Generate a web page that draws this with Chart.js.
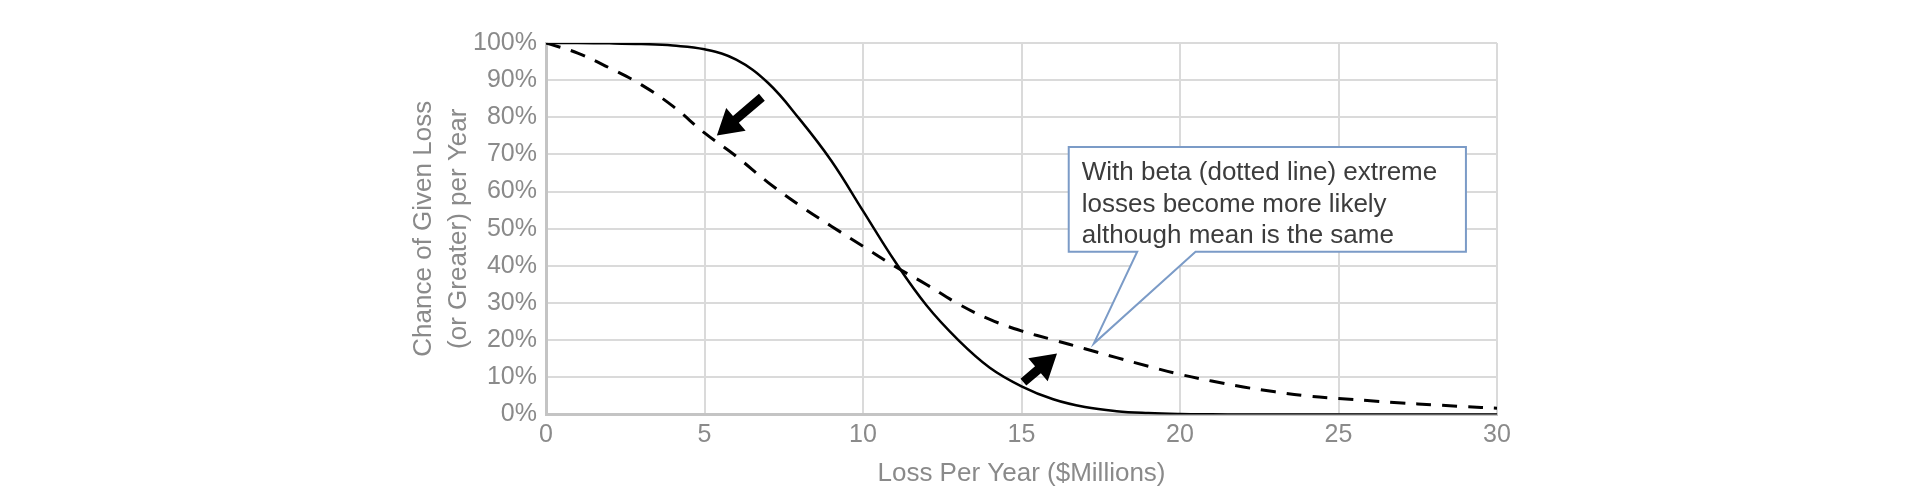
<!DOCTYPE html>
<html>
<head>
<meta charset="utf-8">
<script src="https://cdn.jsdelivr.net/npm/chart.js@4.4.0/dist/chart.umd.min.js"></script>
<style>
  html, body { margin: 0; padding: 0; background: #fff; }
  #wrap { width: 1920px; height: 500px; }
</style>
</head>
<body>
<div id="wrap"><canvas id="lossChart" width="1920" height="500"></canvas></div>
<script>
// loss per year ($M)
const lossX = [ 0, 1, 2, 3, 4, 5, 6, 7, 8, 9, 10, 11, 12, 13, 14, 15, 16, 17, 18, 19, 20, 21, 22, 23, 24, 25, 26, 27, 28, 29, 30 ];
// chance of given loss or greater (%), solid curve
const normalPct = [ 100, 100, 99.9, 99.7, 99.3, 98.3, 95.5, 89.3, 79.5, 68.3, 54.8, 41.3, 29.4, 20.1, 12.6, 7.6, 4.1, 2.0, 0.9, 0.4, 0.15, 0.05, 0, 0, 0, 0, 0, 0, 0, 0, 0 ];
// dashed curve (beta)
const betaPct = [ 100, 97.3, 93.3, 88.8, 83, 75.8, 69.5, 62.5, 56.3, 50.7, 45.3, 39.9, 35, 29.8, 25.6, 22.5, 20.1, 17.7, 15.3, 13, 10.8, 9, 7.4, 6.1, 5, 4.3, 3.7, 3.1, 2.6, 2.1, 1.7 ];
const yTicks = [ 0, 10, 20, 30, 40, 50, 60, 70, 80, 90, 100 ];
const xTicks = [ 0, 5, 10, 15, 20, 25, 30 ];

const calloutLines = [ 'With beta (dotted line) extreme', 'losses become more likely', 'although mean is the same' ];

// annotation geometry, in data units
const notes = {
	arrows: [
		{ from: [ 6.81, 85.4 ], to: [ 5.39, 75.1 ] },
		{ from: [ 15.06, 8.7 ], to: [ 16.12, 16.4 ] }
	],
	box: { x0: 16.49, x1: 29.02, top: 72, bottom: 43.8 },
	pointer: { baseX0: 18.65, baseX1: 20.49, tip: [ 17.28, 19.1 ] }
};

const FONT = '"Liberation Sans", Arial, Helvetica, sans-serif';

function toXY(arr) {
	return lossX.map((x, i) => ({ x: x, y: arr[i] }));
}

const annotate = {
	id: 'annotate',
	afterDatasetsDraw(chart) {
		const ctx = chart.ctx;
		const xs = chart.scales.x, ys = chart.scales.y;
		const px = v => xs.getPixelForValue(v);
		const py = v => ys.getPixelForValue(v);

		// arrows
		ctx.save();
		ctx.fillStyle = '#000';
		notes.arrows.forEach(a => {
			const x1 = px(a.from[0]), y1 = py(a.from[1]);
			const x2 = px(a.to[0]), y2 = py(a.to[1]);
			const len = Math.hypot(x2 - x1, y2 - y1);
			const ux = (x2 - x1) / len, uy = (y2 - y1) / len;
			const nx = -uy, ny = ux;
			const shaft = 4.5, head = 15, headLen = 25;
			const bx = x2 - ux * headLen, by = y2 - uy * headLen;
			ctx.beginPath();
			ctx.moveTo(x1 + nx * shaft, y1 + ny * shaft);
			ctx.lineTo(bx + nx * shaft, by + ny * shaft);
			ctx.lineTo(bx + nx * head, by + ny * head);
			ctx.lineTo(x2, y2);
			ctx.lineTo(bx - nx * head, by - ny * head);
			ctx.lineTo(bx - nx * shaft, by - ny * shaft);
			ctx.lineTo(x1 - nx * shaft, y1 - ny * shaft);
			ctx.closePath();
			ctx.fill();
		});

		// callout
		const b = notes.box, p = notes.pointer;
		const L = px(b.x0), R = px(b.x1), T = py(b.top), B = py(b.bottom);
		ctx.beginPath();
		ctx.moveTo(L, T);
		ctx.lineTo(R, T);
		ctx.lineTo(R, B);
		ctx.lineTo(px(p.baseX1), B);
		ctx.lineTo(px(p.tip[0]), py(p.tip[1]));
		ctx.lineTo(px(p.baseX0), B);
		ctx.lineTo(L, B);
		ctx.closePath();
		ctx.fillStyle = '#fff';
		ctx.fill();
		ctx.strokeStyle = '#7b9bc7';
		ctx.lineWidth = 2;
		ctx.lineJoin = 'miter';
		ctx.stroke();

		ctx.fillStyle = '#3c3c3c';
		ctx.font = '26px ' + FONT;
		ctx.textAlign = 'left';
		ctx.textBaseline = 'alphabetic';
		calloutLines.forEach((line, i) => {
			ctx.fillText(line, L + 13, T + 33 + i * 31.7);
		});
		ctx.restore();
	}
};

const lossChart = new Chart(document.getElementById('lossChart'), {
	type: 'line',
	data: {
		datasets: [
			{
				label: 'Beta',
				data: toXY(betaPct),
				borderColor: '#000',
				borderWidth: 3,
				borderDash: [ 15, 11 ],
				pointRadius: 0,
				tension: 0.4,
				fill: false
			},
			{
				label: 'Normal',
				data: toXY(normalPct),
				borderColor: '#000',
				borderWidth: 2.5,
				pointRadius: 0,
				tension: 0.4,
				fill: false
			}
		]
	},
	options: {
		responsive: false,
		devicePixelRatio: 1,
		animation: false,
		layout: { padding: { left: 400, right: 423, top: 43, bottom: 0 } },
		plugins: {
			legend: { display: false },
			tooltip: { enabled: false }
		},
		scales: {
			x: {
				type: 'linear',
				min: 0,
				max: 30,
				afterBuildTicks: s => { s.ticks = xTicks.map(v => ({ value: v })); },
				afterFit: s => { s.height = 85.5; },
				ticks: {
					color: '#8a8a8a',
					padding: 6,
					font: { family: FONT, size: 25 }
				},
				grid: { color: '#dadada', lineWidth: 2, drawTicks: false },
				border: { color: '#c4c4c4', width: 3 },
				title: {
					display: true,
					text: 'Loss Per Year ($Millions)',
					color: '#8a8a8a',
					font: { family: FONT, size: 26 },
					padding: { top: 0, bottom: 11 }
				}
			},
			y: {
				min: 0,
				max: 100,
				afterBuildTicks: s => { s.ticks = yTicks.map(v => ({ value: v })); },
				afterFit: s => { s.width = 146; },
				ticks: {
					color: '#8a8a8a',
					padding: 9,
					font: { family: FONT, size: 25 },
					callback: v => v + '%'
				},
				grid: { color: '#dadada', lineWidth: 2, drawTicks: false },
				border: { color: '#c4c4c4', width: 3 },
				title: {
					display: true,
					text: [ 'Chance of Given Loss', '(or Greater) per Year' ],
					color: '#8a8a8a',
					font: { family: FONT, size: 26, lineHeight: 1.35 },
					padding: { top: 6.5, bottom: 0 }
				}
			}
		}
	},
	plugins: [ annotate ]
});
</script>
</body>
</html>
